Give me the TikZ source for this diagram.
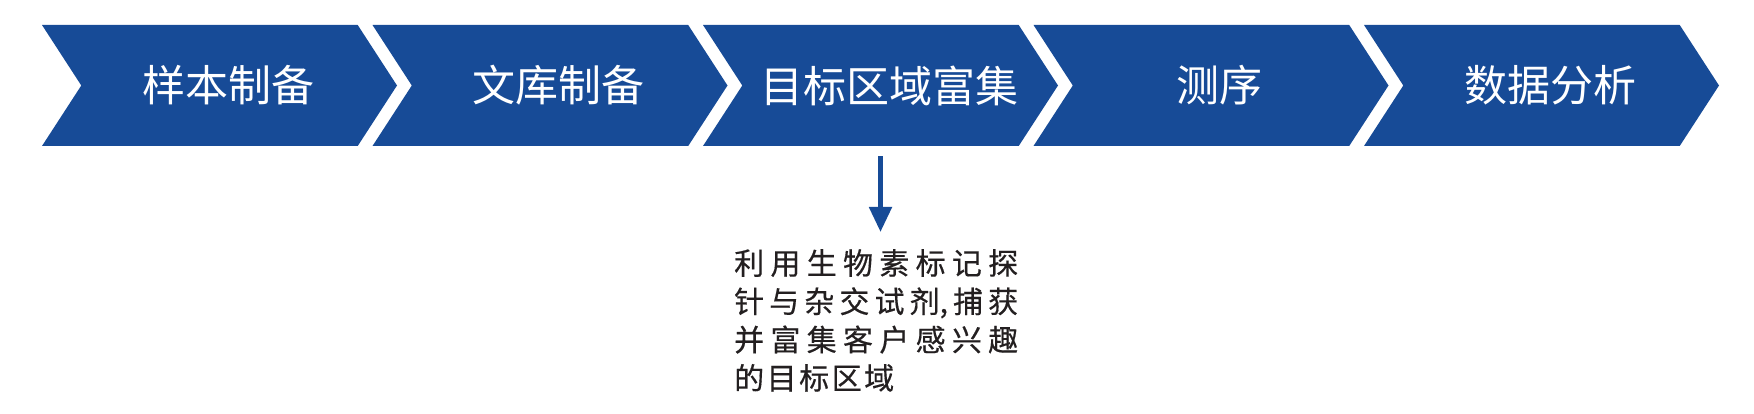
\documentclass[tikz,border=0pt]{standalone}
\usepackage{fontspec}
\setmainfont{Noto Sans CJK SC}
\newfontfamily\notefont{Noto Sans CJK SC}[FakeBold=0.4]
\usepackage{tikz}
\usetikzlibrary{shapes.symbols}
\usetikzlibrary{arrows.meta}
\usepackage{xcolor}
\definecolor{stageblue}{HTML}{174B97}
\definecolor{notegray}{HTML}{231F20}
\newcommand\cjkspread{\XeTeXlinebreaklocale "zh"\XeTeXlinebreakskip=2.5pt plus 30pt\relax}

\begin{document}
\begin{tikzpicture}[x=1pt,y=-1pt,
  stage/.style={signal,signal from=west,signal to=east,signal pointer angle=114,fill=stageblue,text=white,minimum height=121pt,minimum width=355pt,inner sep=0pt,font=\fontsize{43}{43}\selectfont,execute at begin node={\hspace*{17pt}}},
  note/.style={text width=284pt,align=justify,inner sep=0pt,text=notegray,font=\notefont\fontsize{30}{38.3}\selectfont\cjkspread}]
\useasboundingbox (0,0) rectangle (1754,414);
\node [stage] (prep) at (219.5,85.5) {样本制备};
\node [stage,at=(prep.center),xshift=330.5pt] (lib) {文库制备};
\node [stage,at=(lib.center),xshift=330.5pt] (enrich) {目标区域富集};
\node [stage,at=(enrich.center),xshift=330.5pt] (seq) {测序};
\node [stage,at=(seq.center),xshift=330.5pt] (ana) {数据分析};
\node [note,anchor=north west] (capture) at (734,249) {利用生物素标记探\linebreak 针与杂交试剂,捕获\linebreak 并富集客户感兴趣\linebreak 的目标区域};

\draw [-{Triangle[width=22pt,length=25pt]},line width=5pt,draw=stageblue,shorten <=10pt,shorten >=17pt] (enrich.south) -- (enrich.south |- capture.north);
\end{tikzpicture}
\end{document}
